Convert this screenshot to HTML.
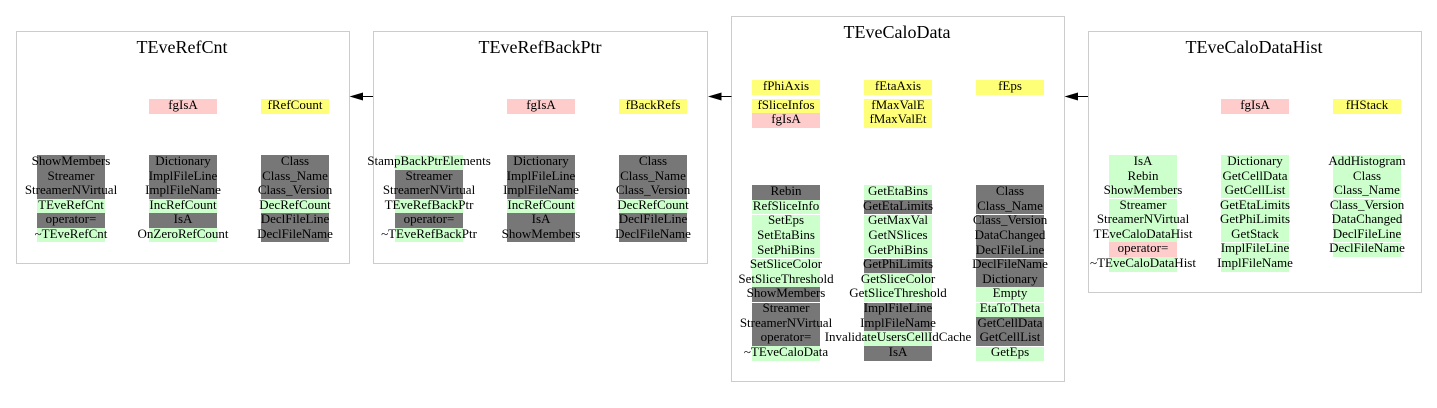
<!DOCTYPE html>
<html><head><meta charset="utf-8">
<style>
html,body{margin:0;padding:0;background:#fff;}
body{width:1437px;height:408px;position:relative;overflow:hidden;font-family:"Liberation Serif","DejaVu Serif",serif;color:#000;}
.box{position:absolute;border:1px solid #cccccc;box-sizing:border-box;background:#fff;}
.t{position:absolute;font-size:18px;line-height:18px;white-space:nowrap;text-align:center;width:300px;}
.c{position:absolute;width:68px;height:14.5px;display:flex;justify-content:center;font-size:13px;line-height:12.5px;white-space:nowrap;}
.c span{flex:none;}
.g{background:#777777;}
.n{background:#ccffcc;}
.p{background:#ffcccc;}
.y{background:#ffff77;}
.w{background:transparent;}
.sep{position:absolute;width:68px;height:1px;background:#fff;}
.d .c{height:14.64px;}
</style></head><body>

<div class="box" style="left:16px;top:31px;width:334px;height:233px;"></div>
<div class="box" style="left:373px;top:31px;width:335px;height:233px;"></div>
<div class="box" style="left:731px;top:16px;width:334px;height:366px;"></div>
<div class="box" style="left:1088px;top:31px;width:334px;height:262px;"></div>

<svg style="position:absolute;left:0;top:0" width="1437" height="408">
<line x1="362" y1="96.5" x2="373" y2="96.5" stroke="#000" stroke-width="1"/>
<polygon points="349.5,96.5 363,92.5 363,100.5" fill="#000"/>
<line x1="720" y1="96.5" x2="731.5" y2="96.5" stroke="#000" stroke-width="1"/>
<polygon points="708,96.5 721.5,92.5 721.5,100.5" fill="#000"/>
<line x1="1077" y1="96.5" x2="1088" y2="96.5" stroke="#000" stroke-width="1"/>
<polygon points="1064.5,96.5 1078,92.5 1078,100.5" fill="#000"/>
</svg>

<!-- TEveRefCnt -->
<div class="t" style="left:32px;top:38px;">TEveRefCnt</div>
<div class="c p" style="left:149px;top:99px;"><span>fgIsA</span></div>
<div class="c y" style="left:261px;top:99px;"><span>fRefCount</span></div>

<div class="c g" style="left:37px;top:155px;"><span>ShowMembers</span></div>
<div class="c g" style="left:37px;top:169.5px;"><span>Streamer</span></div>
<div class="c g" style="left:37px;top:184px;"><span>StreamerNVirtual</span></div>
<div class="c n" style="left:37px;top:198.5px;"><span>TEveRefCnt</span></div>
<div class="c g" style="left:37px;top:213px;"><span>operator=</span></div>
<div class="c n" style="left:37px;top:227.5px;"><span>~TEveRefCnt</span></div>

<div class="c g" style="left:149px;top:155px;"><span>Dictionary</span></div>
<div class="c g" style="left:149px;top:169.5px;"><span>ImplFileLine</span></div>
<div class="c g" style="left:149px;top:184px;"><span>ImplFileName</span></div>
<div class="c n" style="left:149px;top:198.5px;"><span>IncRefCount</span></div>
<div class="c g" style="left:149px;top:213px;"><span>IsA</span></div>
<div class="c n" style="left:149px;top:227.5px;"><span>OnZeroRefCount</span></div>

<div class="c g" style="left:261px;top:155px;"><span>Class</span></div>
<div class="c g" style="left:261px;top:169.5px;"><span>Class_Name</span></div>
<div class="c g" style="left:261px;top:184px;"><span>Class_Version</span></div>
<div class="c n" style="left:261px;top:198.5px;"><span>DecRefCount</span></div>
<div class="c g" style="left:261px;top:213px;"><span>DeclFileLine</span></div>
<div class="c g" style="left:261px;top:227.5px;"><span>DeclFileName</span></div>

<!-- TEveRefBackPtr -->
<div class="t" style="left:390px;top:38px;">TEveRefBackPtr</div>
<div class="c p" style="left:507px;top:99px;"><span>fgIsA</span></div>
<div class="c y" style="left:619px;top:99px;"><span>fBackRefs</span></div>

<div class="c n" style="left:395px;top:155px;"><span>StampBackPtrElements</span></div>
<div class="c g" style="left:395px;top:169.5px;"><span>Streamer</span></div>
<div class="c g" style="left:395px;top:184px;"><span>StreamerNVirtual</span></div>
<div class="c n" style="left:395px;top:198.5px;"><span>TEveRefBackPtr</span></div>
<div class="c g" style="left:395px;top:213px;"><span>operator=</span></div>
<div class="c n" style="left:395px;top:227.5px;"><span>~TEveRefBackPtr</span></div>

<div class="c g" style="left:507px;top:155px;"><span>Dictionary</span></div>
<div class="c g" style="left:507px;top:169.5px;"><span>ImplFileLine</span></div>
<div class="c g" style="left:507px;top:184px;"><span>ImplFileName</span></div>
<div class="c n" style="left:507px;top:198.5px;"><span>IncRefCount</span></div>
<div class="c g" style="left:507px;top:213px;"><span>IsA</span></div>
<div class="c g" style="left:507px;top:227.5px;"><span>ShowMembers</span></div>

<div class="c g" style="left:619px;top:155px;"><span>Class</span></div>
<div class="c g" style="left:619px;top:169.5px;"><span>Class_Name</span></div>
<div class="c g" style="left:619px;top:184px;"><span>Class_Version</span></div>
<div class="c n" style="left:619px;top:198.5px;"><span>DecRefCount</span></div>
<div class="c g" style="left:619px;top:213px;"><span>DeclFileLine</span></div>
<div class="c g" style="left:619px;top:227.5px;"><span>DeclFileName</span></div>

<!-- TEveCaloData -->
<div class="t" style="left:747px;top:23px;">TEveCaloData</div>
<div class="c y" style="left:752px;top:80px;"><span>fPhiAxis</span></div>
<div class="c y" style="left:752px;top:98.7px;"><span>fSliceInfos</span></div>
<div class="c p" style="left:752px;top:113.2px;"><span>fgIsA</span></div>
<div class="c y" style="left:864px;top:80px;"><span>fEtaAxis</span></div>
<div class="c y" style="left:864px;top:98.7px;"><span>fMaxValE</span></div>
<div class="c y" style="left:864px;top:113.2px;"><span>fMaxValEt</span></div>
<div class="c y" style="left:976px;top:80px;"><span>fEps</span></div>

<div class="d">
<div class="c g" style="left:752px;top:185px;"><span>Rebin</span></div>
<div class="c n" style="left:752px;top:199.64px;"><span>RefSliceInfo</span></div>
<div class="c n" style="left:752px;top:214.28px;"><span>SetEps</span></div>
<div class="c n" style="left:752px;top:228.92px;"><span>SetEtaBins</span></div>
<div class="c n" style="left:752px;top:243.56px;"><span>SetPhiBins</span></div>
<div class="c n" style="left:752px;top:258.2px;"><span>SetSliceColor</span></div>
<div class="c n" style="left:752px;top:272.84px;"><span>SetSliceThreshold</span></div>
<div class="c g" style="left:752px;top:287.48px;"><span>ShowMembers</span></div>
<div class="c g" style="left:752px;top:302.12px;"><span>Streamer</span></div>
<div class="c g" style="left:752px;top:316.76px;"><span>StreamerNVirtual</span></div>
<div class="c g" style="left:752px;top:331.4px;"><span>operator=</span></div>
<div class="c n" style="left:752px;top:346.04px;"><span>~TEveCaloData</span></div>

<div class="c n" style="left:864px;top:185px;"><span>GetEtaBins</span></div>
<div class="c g" style="left:864px;top:199.64px;"><span>GetEtaLimits</span></div>
<div class="c n" style="left:864px;top:214.28px;"><span>GetMaxVal</span></div>
<div class="c n" style="left:864px;top:228.92px;"><span>GetNSlices</span></div>
<div class="c n" style="left:864px;top:243.56px;"><span>GetPhiBins</span></div>
<div class="c g" style="left:864px;top:258.2px;"><span>GetPhiLimits</span></div>
<div class="c n" style="left:864px;top:272.84px;"><span>GetSliceColor</span></div>
<div class="c n" style="left:864px;top:287.48px;"><span>GetSliceThreshold</span></div>
<div class="c g" style="left:864px;top:302.12px;"><span>ImplFileLine</span></div>
<div class="c g" style="left:864px;top:316.76px;"><span>ImplFileName</span></div>
<div class="c n" style="left:864px;top:331.4px;"><span>InvalidateUsersCellIdCache</span></div>
<div class="c g" style="left:864px;top:346.04px;"><span>IsA</span></div>

<div class="c g" style="left:976px;top:185px;"><span>Class</span></div>
<div class="c g" style="left:976px;top:199.64px;"><span>Class_Name</span></div>
<div class="c g" style="left:976px;top:214.28px;"><span>Class_Version</span></div>
<div class="c g" style="left:976px;top:228.92px;"><span>DataChanged</span></div>
<div class="c g" style="left:976px;top:243.56px;"><span>DeclFileLine</span></div>
<div class="c g" style="left:976px;top:258.2px;"><span>DeclFileName</span></div>
<div class="c g" style="left:976px;top:272.84px;"><span>Dictionary</span></div>
<div class="c n" style="left:976px;top:287.48px;"><span>Empty</span></div>
<div class="c n" style="left:976px;top:302.12px;"><span>EtaToTheta</span></div>
<div class="c g" style="left:976px;top:316.76px;"><span>GetCellData</span></div>
<div class="c g" style="left:976px;top:331.4px;"><span>GetCellList</span></div>
<div class="c n" style="left:976px;top:346.04px;"><span>GetEps</span></div>
</div>
<div class="sep" style="left:752px;top:214px;"></div>
<div class="sep" style="left:752px;top:258px;"></div>
<div class="sep" style="left:752px;top:302px;"></div>
<div class="sep" style="left:864px;top:214px;"></div>
<div class="sep" style="left:864px;top:258px;"></div>
<div class="sep" style="left:864px;top:302px;"></div>
<div class="sep" style="left:976px;top:214px;"></div>
<div class="sep" style="left:976px;top:258px;"></div>
<div class="sep" style="left:976px;top:302px;"></div>
<div class="sep" style="left:976px;top:346px;"></div>

<!-- TEveCaloDataHist -->
<div class="t" style="left:1104px;top:38px;">TEveCaloDataHist</div>
<div class="c p" style="left:1221px;top:99px;"><span>fgIsA</span></div>
<div class="c y" style="left:1333px;top:99px;"><span>fHStack</span></div>

<div class="c n" style="left:1109px;top:155px;"><span>IsA</span></div>
<div class="c n" style="left:1109px;top:169.58px;"><span>Rebin</span></div>
<div class="c n" style="left:1109px;top:184.16px;"><span>ShowMembers</span></div>
<div class="c n" style="left:1109px;top:198.74px;"><span>Streamer</span></div>
<div class="c n" style="left:1109px;top:213.32px;"><span>StreamerNVirtual</span></div>
<div class="c n" style="left:1109px;top:227.9px;"><span>TEveCaloDataHist</span></div>
<div class="c p" style="left:1109px;top:242.48px;"><span>operator=</span></div>
<div class="c n" style="left:1109px;top:257.06px;"><span>~TEveCaloDataHist</span></div>

<div class="c n" style="left:1221px;top:155px;"><span>Dictionary</span></div>
<div class="c n" style="left:1221px;top:169.58px;"><span>GetCellData</span></div>
<div class="c n" style="left:1221px;top:184.16px;"><span>GetCellList</span></div>
<div class="c n" style="left:1221px;top:198.74px;"><span>GetEtaLimits</span></div>
<div class="c n" style="left:1221px;top:213.32px;"><span>GetPhiLimits</span></div>
<div class="c n" style="left:1221px;top:227.9px;"><span>GetStack</span></div>
<div class="c n" style="left:1221px;top:242.48px;"><span>ImplFileLine</span></div>
<div class="c n" style="left:1221px;top:257.06px;"><span>ImplFileName</span></div>

<div class="c n" style="left:1333px;top:155px;"><span>AddHistogram</span></div>
<div class="c n" style="left:1333px;top:169.58px;"><span>Class</span></div>
<div class="c n" style="left:1333px;top:184.16px;"><span>Class_Name</span></div>
<div class="c n" style="left:1333px;top:198.74px;"><span>Class_Version</span></div>
<div class="c n" style="left:1333px;top:213.32px;"><span>DataChanged</span></div>
<div class="c n" style="left:1333px;top:227.9px;"><span>DeclFileLine</span></div>
<div class="c n" style="left:1333px;top:242.48px;"><span>DeclFileName</span></div>
<div class="sep" style="left:1109px;top:198px;"></div>
<div class="sep" style="left:1221px;top:198px;"></div>
<div class="sep" style="left:1333px;top:198px;"></div>
<div class="sep" style="left:1221px;top:242px;"></div>
<div class="sep" style="left:1333px;top:242px;"></div>

</body></html>
